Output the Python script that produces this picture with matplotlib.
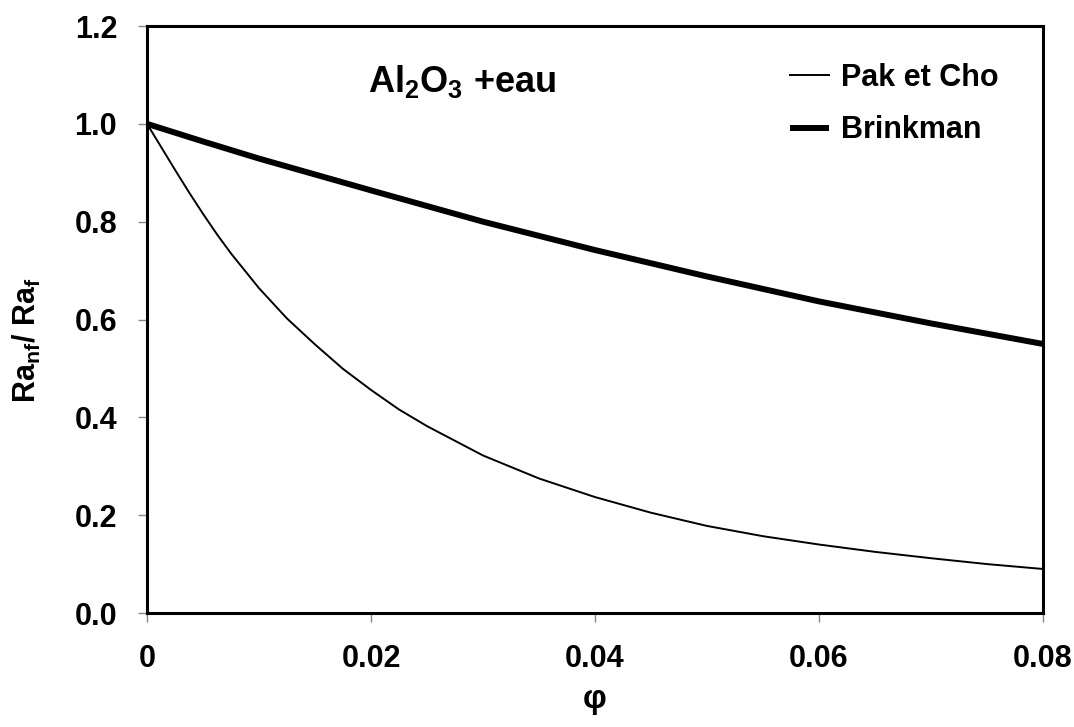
import numpy as np
import matplotlib
matplotlib.use('Agg')
import matplotlib.pyplot as plt

plt.rcParams['font.family'] = ['Liberation Sans', 'DejaVu Sans']
plt.rcParams['font.weight'] = 'bold'
plt.rcParams['mathtext.fontset'] = 'custom'
plt.rcParams['mathtext.rm'] = 'Liberation Sans:bold'
plt.rcParams['mathtext.bf'] = 'Liberation Sans:bold'
plt.rcParams['mathtext.it'] = 'Liberation Sans:bold'

# values
phi_pak = [0.0, 0.00125, 0.0025, 0.00375, 0.005, 0.00625, 0.0075, 0.01, 0.0125,
           0.015, 0.0175, 0.02, 0.0225, 0.025, 0.03, 0.035,
           0.04, 0.045, 0.05, 0.055, 0.06, 0.065, 0.07, 0.075, 0.08]
ra_pak = [1.0, 0.953, 0.906, 0.86, 0.816, 0.774, 0.735, 0.664, 0.602,
          0.549, 0.499, 0.456, 0.416, 0.382, 0.322, 0.275,
          0.237, 0.205, 0.178, 0.157, 0.14, 0.125, 0.112, 0.1, 0.09]

phi_brink = [0.0, 0.005, 0.01, 0.02, 0.03, 0.04, 0.05, 0.06, 0.07, 0.08]
ra_brink = [1.0, 0.964, 0.929, 0.864, 0.80, 0.742, 0.688, 0.637, 0.592, 0.55]

xticks = [0, 0.02, 0.04, 0.06, 0.08]
xticklabels = ['0', '0.02', '0.04', '0.06', '0.08']
yticks = [0.0, 0.2, 0.4, 0.6, 0.8, 1.0, 1.2]
yticklabels = ['0.0', '0.2', '0.4', '0.6', '0.8', '1.0', '1.2']

fig = plt.figure(figsize=(10.74, 7.27), dpi=100)
ax = fig.add_axes([0.1369, 0.1568, 0.8343, 0.8074])

ax.plot(phi_pak, ra_pak, color='black', lw=1.4, label='Pak et Cho')
ax.plot(phi_brink, ra_brink, color='black', lw=4.3, label='Brinkman',
        solid_capstyle='butt')

ax.set_xlim(0, 0.08)
ax.set_ylim(0, 1.2)
ax.set_xticks(xticks)
ax.set_xticklabels(xticklabels)
ax.set_yticks(yticks)
ax.set_yticklabels(yticklabels)
ax.tick_params(direction='out', length=6.5, width=1, color='#888888',
               labelsize=22, top=False, right=False)
ax.tick_params(axis='y', pad=15)
ax.tick_params(axis='x', pad=16)

for s in ax.spines.values():
    s.set_linewidth(2.2)
    s.set_color('black')

ax.set_xlabel('φ', fontsize=24, fontweight='bold', va='center')
ax.xaxis.set_label_coords(0.5, -0.148)
ax.set_ylabel(r'Ra$_{\mathrm{nf}}$/ Ra$_{\mathrm{f}}$', fontsize=22,
              fontweight='bold', va='center')
ax.yaxis.set_label_coords(-0.134, 0.465)

ax.text(0.247, 0.8876, r'Al$_{2}$O$_{3}$ +eau', transform=ax.transAxes,
        fontsize=26, fontweight='bold', va='baseline', ha='left')

leg = ax.legend(loc='upper left', bbox_to_anchor=(0.7176, 0.937),
                frameon=False, fontsize=22, handlelength=1.27,
                handletextpad=0.4, labelspacing=0.73, borderpad=0,
                borderaxespad=0)

fig.savefig('out.png', dpi=100)
